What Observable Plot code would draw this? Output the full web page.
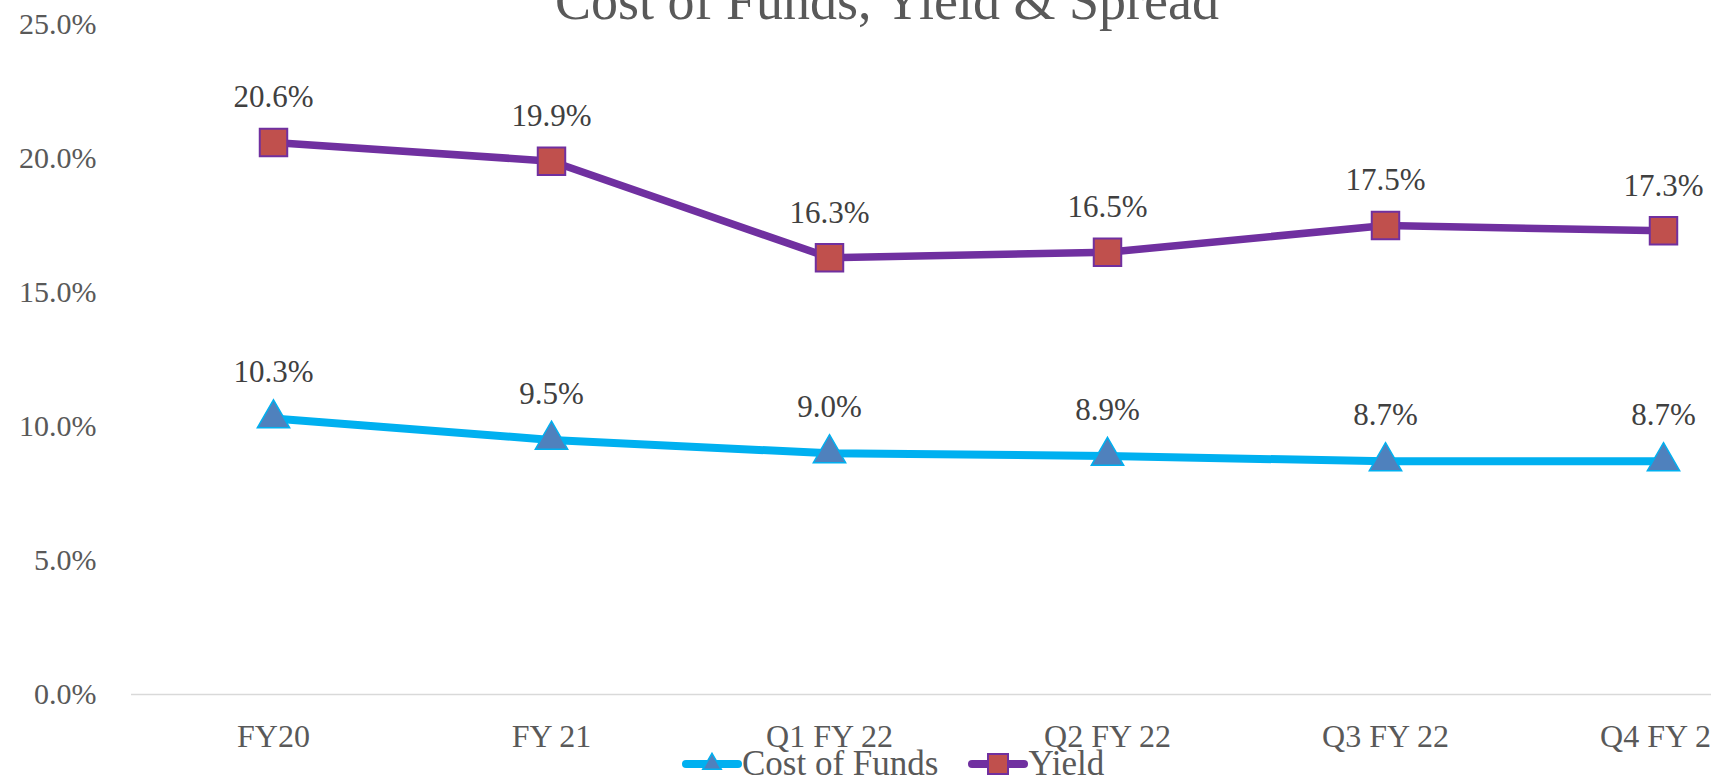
<!DOCTYPE html>
<html>
<head>
<meta charset="utf-8">
<script src="https://cdn.jsdelivr.net/npm/d3@7"></script>
<script src="https://cdn.jsdelivr.net/npm/@observablehq/plot@0.6"></script>
<style>
  html, body { margin: 0; padding: 0; background: #fff; }
  #wrap { position: relative; width: 1711px; height: 781px; overflow: hidden; font-family: "Liberation Serif", serif; }
  #title { position: absolute; left: 887px; top: -26px; transform: translateX(-50%); font-size: 54px; line-height: 54px; color: #595959; white-space: nowrap; }
  #legend { position: absolute; left: 682px; top: 744px; display: flex; align-items: center; font-size: 35px; line-height: 40px; color: #595959; white-space: nowrap; }
  #legend .item { display: flex; align-items: center; margin-right: 30px; }
  #legend svg { display: block; }
</style>
</head>
<body>
<div id="wrap">
  <div id="chart"></div>
  <div id="title"></div>
  <div id="legend"></div>
</div>
<script>
const titleText = "Cost of Funds, Yield & Spread";
const categories = ["FY20", "FY 21", "Q1 FY 22", "Q2 FY 22", "Q3 FY 22", "Q4 FY 22"];
const costOfFunds = [10.3, 9.5, 9.0, 8.9, 8.7, 8.7];
const yieldValues = [20.6, 19.9, 16.3, 16.5, 17.5, 17.3];
const yTicks = [0, 5, 10, 15, 20, 25];
const seriesNames = ["Cost of Funds", "Yield"];

const costRows = categories.map((c, i) => ({cat: c, value: costOfFunds[i], series: seriesNames[0]}));
const yieldRows = categories.map((c, i) => ({cat: c, value: yieldValues[i], series: seriesNames[1]}));
const fmt = v => v.toFixed(1) + "%";

const chart = Plot.plot({
  width: 1711,
  height: 781,
  marginLeft: 131,
  marginRight: 0,
  marginTop: 24,
  marginBottom: 87,
  style: {fontFamily: "'Liberation Serif', serif", color: "#595959", background: "transparent"},
  x: {type: "point", domain: categories, range: [131, 1804], padding: 0.5},
  y: {domain: [0, 25]},
  marks: [
    Plot.ruleY([0], {stroke: "#D9D9D9", strokeWidth: 1.5}),
    Plot.axisY({ticks: yTicks, tickSize: 0, tickPadding: 35, tickFormat: fmt, fontSize: 30, label: null}),
    Plot.axisX({tickSize: 0, tickPadding: 30, fontSize: 32, label: null}),
    Plot.line(costRows, {x: "cat", y: "value", stroke: "#00B0F0", strokeWidth: 8, strokeLinejoin: "round", strokeLinecap: "round"}),
    Plot.line(yieldRows, {x: "cat", y: "value", stroke: "#7030A0", strokeWidth: 7.5, strokeLinejoin: "round", strokeLinecap: "round"}),
    Plot.dot(costRows, {x: "cat", y: "value", symbol: "triangle", r: 12, fill: "#4F81BD", stroke: "#00B0F0", strokeWidth: 1.5}),
    Plot.dot(yieldRows, {x: "cat", y: "value", symbol: "square", r: 15.5, fill: "#C0504D", stroke: "#7030A0", strokeWidth: 2}),
    Plot.text(costRows, {x: "cat", y: "value", text: d => fmt(d.value), dy: -46, fontSize: 31, fill: "#404040"}),
    Plot.text(yieldRows, {x: "cat", y: "value", text: d => fmt(d.value), dy: -45, fontSize: 31, fill: "#404040"})
  ]
});
document.getElementById("chart").appendChild(chart);
document.getElementById("title").textContent = titleText;

// Legend
const legend = d3.select("#legend");
const items = [
  {name: seriesNames[0], stroke: "#00B0F0", fill: "#4F81BD", symbol: d3.symbolTriangle, size: 150, sw: 1.5},
  {name: seriesNames[1], stroke: "#7030A0", fill: "#C0504D", symbol: d3.symbolSquare, size: 400, sw: 2}
];
items.forEach(it => {
  const div = legend.append("div").attr("class", "item");
  const svg = div.append("svg").attr("width", 60).attr("height", 30);
  svg.append("line").attr("x1", 4).attr("x2", 56).attr("y1", 15).attr("y2", 15)
    .attr("stroke", it.stroke).attr("stroke-width", 8).attr("stroke-linecap", "round");
  svg.append("path").attr("d", d3.symbol(it.symbol, it.size)()).attr("transform", "translate(30,15)")
    .attr("fill", it.fill).attr("stroke", it.stroke).attr("stroke-width", it.sw);
  div.append("span").text(it.name);
});
</script>
</body>
</html>
